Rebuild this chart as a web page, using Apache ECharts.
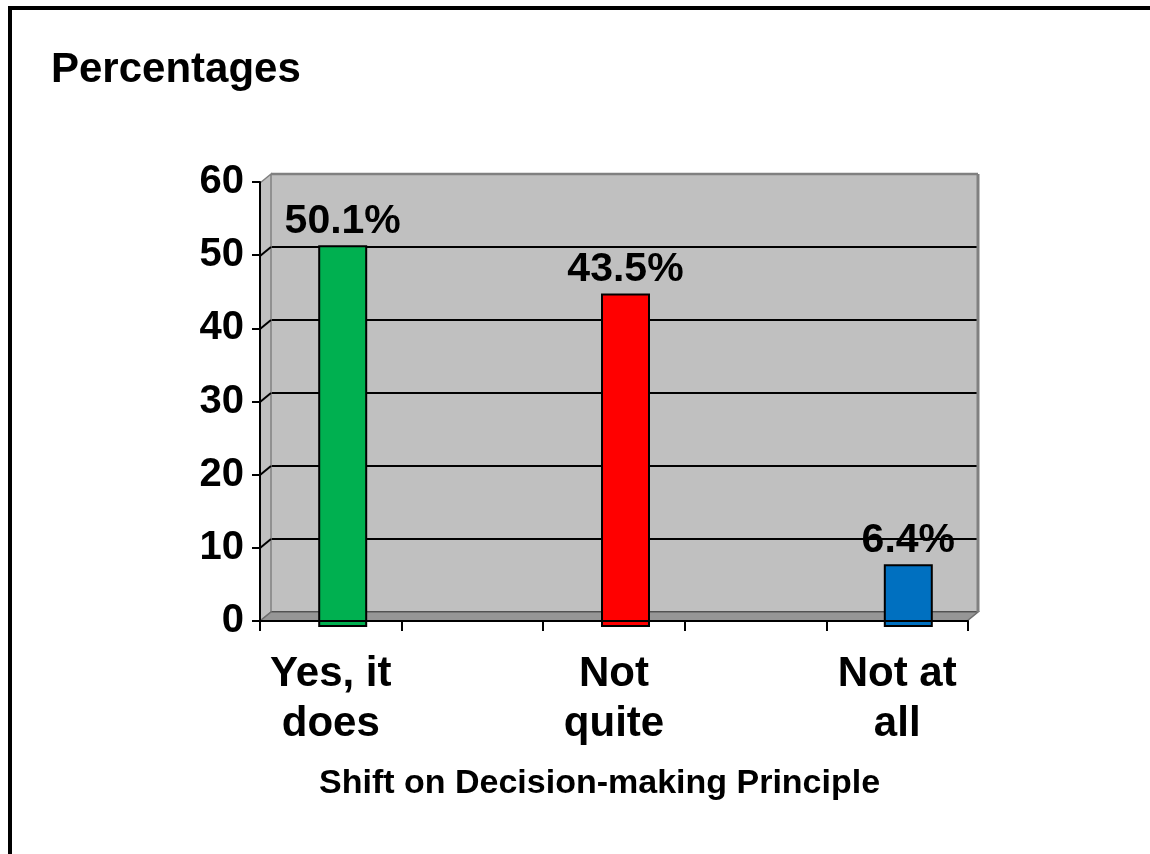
<!DOCTYPE html>
<html>
<head>
<meta charset="utf-8">
<script src="https://cdn.jsdelivr.net/npm/echarts@6/dist/echarts.min.js"></script>
<style>
  html, body { margin: 0; padding: 0; background: #ffffff; }
  #chart { width: 1150px; height: 854px; }
</style>
</head>
<body>
<div id="chart"></div>
<script>
const categories = ['Yes, it\ndoes', 'Not\nquite', 'Not at\nall'];
const values = [50.1, 43.5, 6.4];
const valueLabels = ['50.1%', '43.5%', '6.4%'];
const barColors = ['#00B050', '#FF0000', '#0070C0'];
const yTicks = [0, 10, 20, 30, 40, 50, 60];
const chartTitle = 'Percentages';
const xAxisTitle = 'Shift on Decision-making Principle';

const FONT = '"Liberation Sans", Arial, sans-serif';
// category slots: each category followed by an empty spacer slot
const slots = [];
categories.forEach((c, i) => { slots.push(c); if (i < categories.length - 1) slots.push(''); });
const barData = values.map((v, i) => [i * 2, v, i]);

const DX = -11, DY = 9; // depth offset from back wall to front plane

const chart = echarts.init(document.getElementById('chart'), null, { renderer: 'canvas' });
chart.setOption({
  backgroundColor: '#ffffff',
  animation: false,
  title: [
    { text: chartTitle, left: 46, top: 44,
      textStyle: { fontFamily: FONT, fontSize: 42, fontWeight: 'bold', color: '#000' } },
    { text: xAxisTitle, left: 314, top: 762,
      textStyle: { fontFamily: FONT, fontSize: 34, fontWeight: 'bold', color: '#000' } }
  ],
  graphic: [
    { type: 'rect', left: 8, top: 6, shape: { width: 4, height: 848 }, style: { fill: '#000' }, z: 100 },
    { type: 'rect', left: 8, top: 6, shape: { width: 1142, height: 4 }, style: { fill: '#000' }, z: 100 }
  ],
  grid: [
    { left: 260, top: 182, width: 708, height: 439 },
    { left: 271, top: 174, width: 707, height: 438, show: true, backgroundColor: '#C0C0C0', borderWidth: 0 }
  ],
  xAxis: [
    { type: 'category', gridIndex: 0, data: slots, boundaryGap: true, z: 10,
      axisLine: { show: true, lineStyle: { color: '#000', width: 2 } },
      axisTick: { show: true, interval: 0, length: 10, lineStyle: { color: '#000', width: 2 } },
      axisLabel: { interval: 0, margin: 28, fontFamily: FONT, fontSize: 42, fontWeight: 'bold',
        color: '#000', lineHeight: 50 },
      splitLine: { show: false } },
    { type: 'category', gridIndex: 1, data: slots, boundaryGap: true, show: false }
  ],
  yAxis: [
    { type: 'value', gridIndex: 0, min: 0, max: 60, interval: 10, z: 10,
      axisLine: { show: true, lineStyle: { color: '#000', width: 2 } },
      axisTick: { show: true, length: 8, lineStyle: { color: '#000', width: 2 } },
      axisLabel: { margin: 16, fontFamily: FONT, fontSize: 40, fontWeight: 'bold', color: '#000' },
      splitLine: { show: false } },
    { type: 'value', gridIndex: 1, min: 0, max: 60, interval: 10,
      axisLine: { show: false }, axisTick: { show: false }, axisLabel: { show: false },
      splitLine: { show: true, lineStyle: { color: '#000', width: 2 } } }
  ],
  series: [
    {
      type: 'custom', xAxisIndex: 1, yAxisIndex: 1, z: 1, silent: true,
      data: [[0, 0]],
      renderItem: function (params, api) {
        const cs = params.coordSys;
        const x = cs.x, y = cs.y, w = cs.width, h = cs.height;
        const children = [
          { type: 'polygon', shape: { points: [[x + DX, y + DY], [x, y], [x, y + h], [x + DX, y + h + DY]] },
            style: { fill: '#C0C0C0', stroke: '#808080', lineWidth: 1.5 } },
          { type: 'polygon', shape: { points: [[x, y + h], [x + w, y + h], [x + w + DX, y + h + DY], [x + DX, y + h + DY]] },
            style: { fill: '#969696', stroke: '#6E6E6E', lineWidth: 1.5 } },
          { type: 'line', shape: { x1: x, y1: y, x2: x + w, y2: y }, style: { stroke: '#808080', lineWidth: 2.5 } },
          { type: 'line', shape: { x1: x + w, y1: y, x2: x + w, y2: y + h }, style: { stroke: '#808080', lineWidth: 3 } }
        ];
        yTicks.forEach(function (t) {
          if (t === 0 || t === 60) return;
          const p = api.coord([0, t]);
          children.push({ type: 'line', shape: { x1: x, y1: p[1], x2: x + DX, y2: p[1] + DY },
            style: { stroke: '#000', lineWidth: 2 } });
        });
        return { type: 'group', children: children };
      }
    },
    {
      type: 'custom', xAxisIndex: 1, yAxisIndex: 1, z: 5, silent: true,
      data: barData,
      renderItem: function (params, api) {
        const idx = api.value(2);
        const top = api.coord([api.value(0), api.value(1)]);
        const base = api.coord([api.value(0), 0]);
        const bw = 47;
        const cx = top[0] + 1;
        const bottom = base[1] + 14;
        return {
          type: 'group',
          children: [
            { type: 'rect', shape: { x: cx - bw / 2, y: top[1], width: bw, height: bottom - top[1] },
              style: { fill: barColors[idx], stroke: '#000', lineWidth: 2 } },
            { type: 'text', z2: 10, style: { text: valueLabels[idx], x: cx, y: top[1] - 4,
              align: 'center', verticalAlign: 'bottom', fill: '#000',
              font: 'bold 41px ' + FONT } }
          ]
        };
      }
    }
  ]
});
</script>
</body>
</html>
